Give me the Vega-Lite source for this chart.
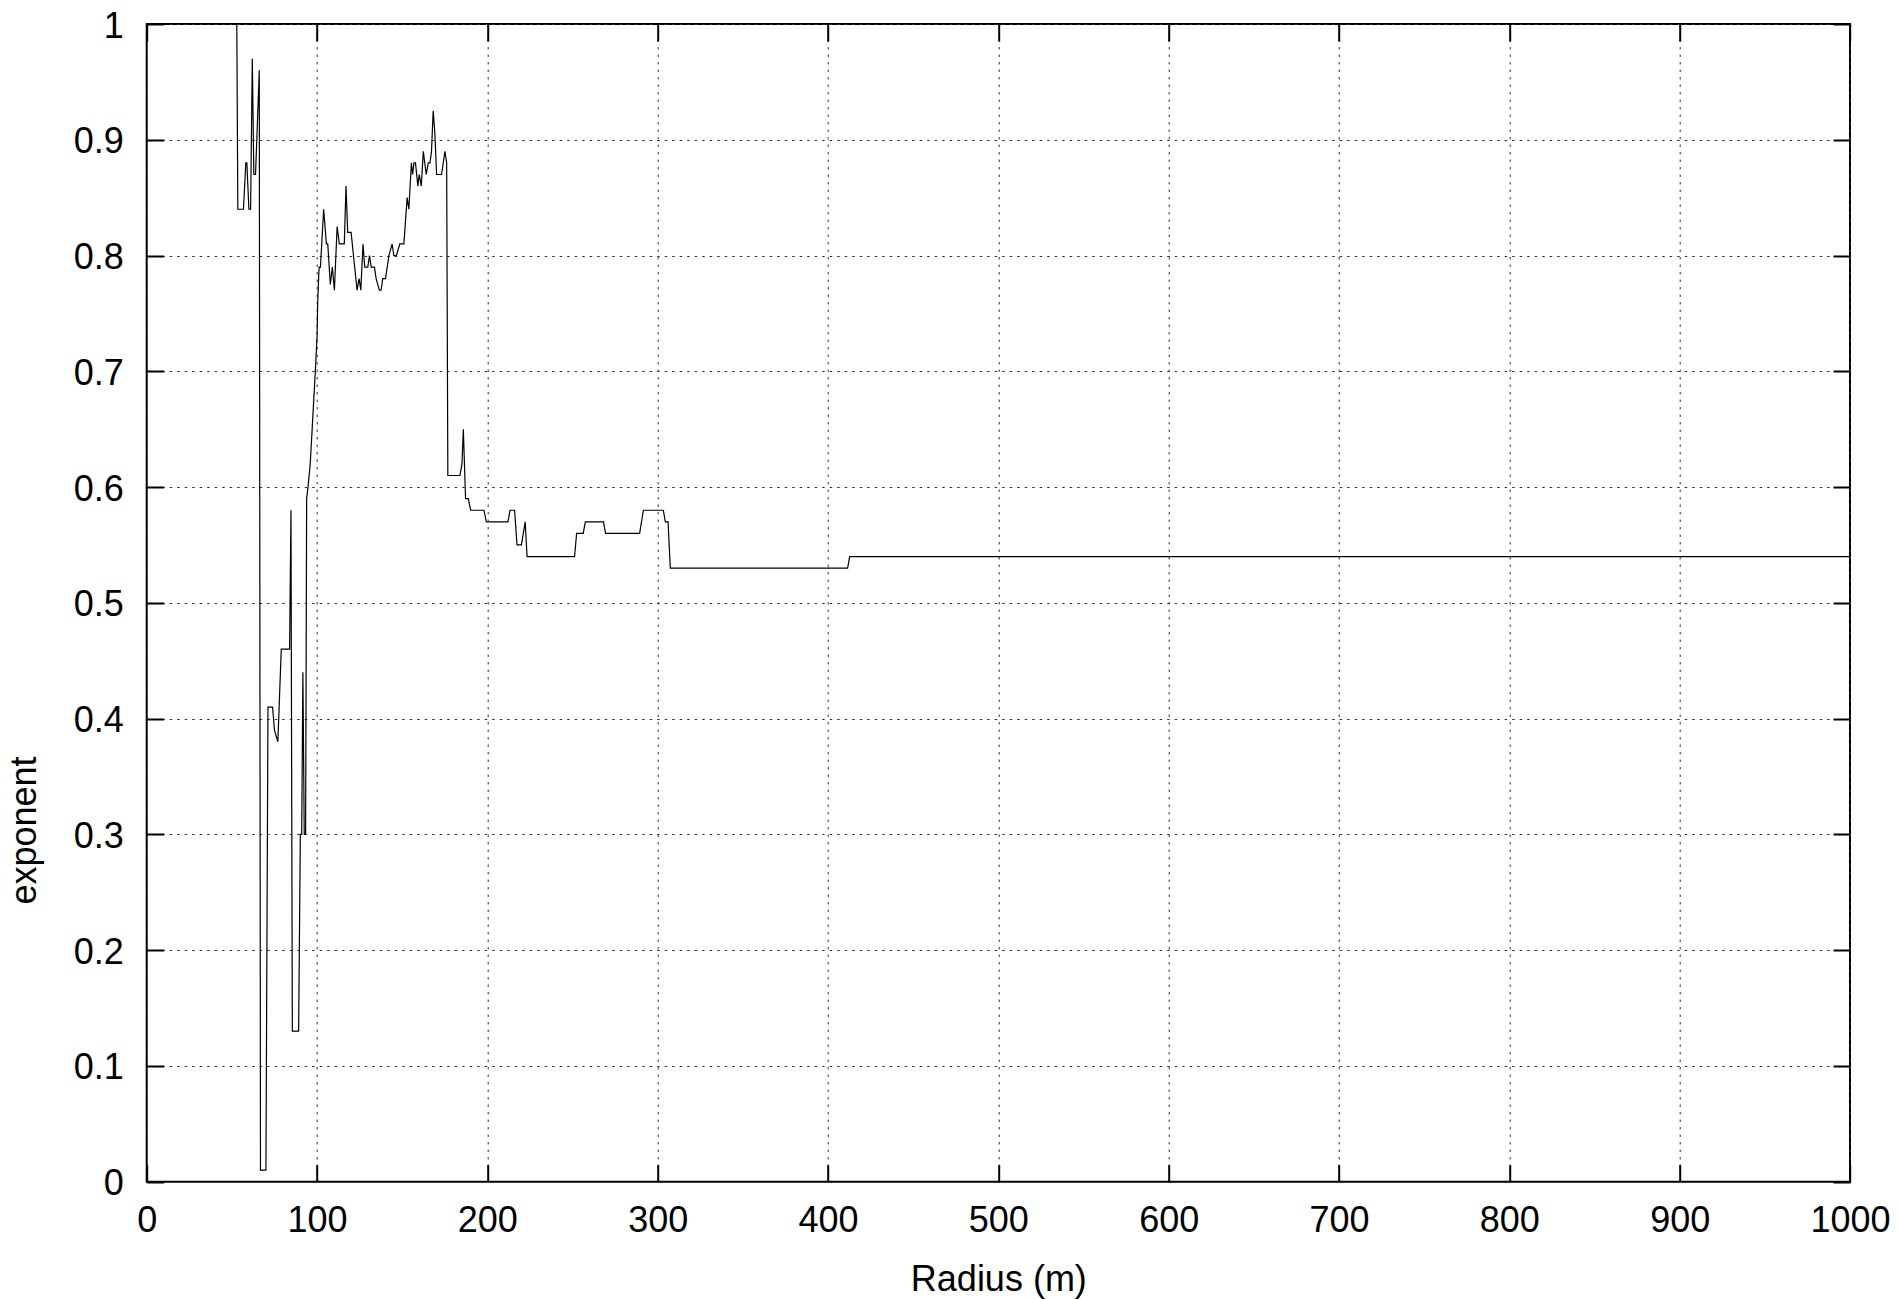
{
  "$schema": "https://vega.github.io/schema/vega-lite/v6.json",
  "width": 1703.3,
  "height": 1157.7,
  "autosize": {"type": "none"},
  "padding": {"left": 146.7, "top": 24, "right": 49, "bottom": 118.3},
  "background": "white",
  "config": {
    "view": {"stroke": "black", "strokeWidth": 2},
    "font": "Liberation Sans",
    "axis": {
      "labelFont": "Liberation Sans",
      "labelFontSize": 36,
      "labelColor": "black",
      "labelFlush": false,
      "titleFont": "Liberation Sans",
      "titleFontSize": 36,
      "titleFontWeight": "normal",
      "titleColor": "black",
      "domain": false,
      "tickColor": "black",
      "tickWidth": 2,
      "tickSize": -17,
      "gridColor": "#333333",
      "gridDash": [2.5, 5],
      "gridWidth": 1,
      "gridOpacity": 1
    }
  },
  "data": {
    "values": [
      {"r": 52.9, "e": 1.0},
      {"r": 53.5, "e": 0.84},
      {"r": 56.8, "e": 0.84},
      {"r": 58.2, "e": 0.88},
      {"r": 58.8, "e": 0.88},
      {"r": 60.0, "e": 0.84},
      {"r": 61.0, "e": 0.84},
      {"r": 62.0, "e": 0.97},
      {"r": 62.9, "e": 0.87},
      {"r": 63.9, "e": 0.87},
      {"r": 66.1, "e": 0.96},
      {"r": 66.8, "e": 0.01},
      {"r": 70.0, "e": 0.01},
      {"r": 71.2, "e": 0.41},
      {"r": 73.9, "e": 0.41},
      {"r": 75.0, "e": 0.39},
      {"r": 77.0, "e": 0.38},
      {"r": 79.0, "e": 0.46},
      {"r": 83.9, "e": 0.46},
      {"r": 84.7, "e": 0.58},
      {"r": 85.5, "e": 0.13},
      {"r": 89.2, "e": 0.13},
      {"r": 90.2, "e": 0.30},
      {"r": 91.0, "e": 0.30},
      {"r": 91.7, "e": 0.44},
      {"r": 92.5, "e": 0.30},
      {"r": 93.3, "e": 0.30},
      {"r": 93.9, "e": 0.59},
      {"r": 94.7, "e": 0.60},
      {"r": 96.0, "e": 0.62},
      {"r": 97.5, "e": 0.66},
      {"r": 99.0, "e": 0.70},
      {"r": 100.0, "e": 0.73},
      {"r": 100.4, "e": 0.76},
      {"r": 101.2, "e": 0.79},
      {"r": 102.0, "e": 0.79},
      {"r": 103.9, "e": 0.84},
      {"r": 105.5, "e": 0.81},
      {"r": 106.3, "e": 0.81},
      {"r": 107.8, "e": 0.775},
      {"r": 109.0, "e": 0.79},
      {"r": 110.2, "e": 0.77},
      {"r": 111.8, "e": 0.825},
      {"r": 113.1, "e": 0.81},
      {"r": 116.0, "e": 0.81},
      {"r": 117.0, "e": 0.86},
      {"r": 118.0, "e": 0.82},
      {"r": 120.0, "e": 0.82},
      {"r": 123.5, "e": 0.77},
      {"r": 124.7, "e": 0.78},
      {"r": 125.7, "e": 0.77},
      {"r": 127.0, "e": 0.81},
      {"r": 128.0, "e": 0.79},
      {"r": 129.8, "e": 0.79},
      {"r": 130.8, "e": 0.80},
      {"r": 131.8, "e": 0.79},
      {"r": 133.7, "e": 0.79},
      {"r": 134.7, "e": 0.78},
      {"r": 136.6, "e": 0.77},
      {"r": 137.6, "e": 0.77},
      {"r": 138.6, "e": 0.78},
      {"r": 140.2, "e": 0.78},
      {"r": 142.2, "e": 0.80},
      {"r": 144.1, "e": 0.81},
      {"r": 145.1, "e": 0.80},
      {"r": 146.6, "e": 0.80},
      {"r": 148.6, "e": 0.81},
      {"r": 151.0, "e": 0.81},
      {"r": 152.9, "e": 0.85},
      {"r": 153.9, "e": 0.84},
      {"r": 155.4, "e": 0.88},
      {"r": 156.1, "e": 0.87},
      {"r": 156.9, "e": 0.88},
      {"r": 157.8, "e": 0.88},
      {"r": 159.2, "e": 0.86},
      {"r": 160.0, "e": 0.87},
      {"r": 161.2, "e": 0.86},
      {"r": 162.4, "e": 0.89},
      {"r": 164.1, "e": 0.87},
      {"r": 165.3, "e": 0.88},
      {"r": 166.3, "e": 0.88},
      {"r": 167.2, "e": 0.89},
      {"r": 168.2, "e": 0.925},
      {"r": 169.2, "e": 0.905},
      {"r": 170.2, "e": 0.87},
      {"r": 173.1, "e": 0.87},
      {"r": 175.1, "e": 0.89},
      {"r": 176.1, "e": 0.88},
      {"r": 176.8, "e": 0.61},
      {"r": 183.9, "e": 0.61},
      {"r": 185.1, "e": 0.62},
      {"r": 185.9, "e": 0.65},
      {"r": 187.2, "e": 0.59},
      {"r": 188.8, "e": 0.59},
      {"r": 190.2, "e": 0.58},
      {"r": 198.0, "e": 0.58},
      {"r": 199.4, "e": 0.57},
      {"r": 212.1, "e": 0.57},
      {"r": 213.3, "e": 0.58},
      {"r": 216.0, "e": 0.58},
      {"r": 217.4, "e": 0.55},
      {"r": 220.0, "e": 0.55},
      {"r": 222.2, "e": 0.57},
      {"r": 223.3, "e": 0.54},
      {"r": 251.2, "e": 0.54},
      {"r": 252.4, "e": 0.56},
      {"r": 256.3, "e": 0.56},
      {"r": 257.5, "e": 0.57},
      {"r": 268.2, "e": 0.57},
      {"r": 269.4, "e": 0.56},
      {"r": 289.4, "e": 0.56},
      {"r": 291.6, "e": 0.58},
      {"r": 303.3, "e": 0.58},
      {"r": 304.5, "e": 0.57},
      {"r": 306.1, "e": 0.57},
      {"r": 307.4, "e": 0.53},
      {"r": 411.5, "e": 0.53},
      {"r": 412.7, "e": 0.54},
      {"r": 1000.0, "e": 0.54}
    ]
  },
  "layer": [
    {
      "mark": {"type": "line", "color": "black", "strokeWidth": 1.2, "clip": true},
      "encoding": {
        "x": {
          "field": "r",
          "type": "quantitative",
          "scale": {"domain": [0, 1000], "nice": false, "zero": false},
          "axis": {
            "orient": "bottom",
            "title": "Radius (m)",
            "values": [0, 100, 200, 300, 400, 500, 600, 700, 800, 900, 1000],
            "format": "~f",
            "labelPadding": 39,
            "titlePadding": 24,
            "grid": true
          }
        },
        "y": {
          "field": "e",
          "type": "quantitative",
          "scale": {"domain": [0, 1], "nice": false, "zero": false},
          "axis": {
            "orient": "left",
            "title": "exponent",
            "values": [0, 0.1, 0.2, 0.3, 0.4, 0.5, 0.6, 0.7, 0.8, 0.9, 1],
            "format": "~f",
            "labelPadding": 40.5,
            "labelOffset": 2,
            "titlePadding": 30,
            "titleY": 806,
            "grid": true
          }
        }
      }
    },
    {
      "mark": {"type": "line", "strokeOpacity": 0},
      "encoding": {
        "x": {
          "field": "r",
          "type": "quantitative",
          "scale": {"domain": [0, 1000], "nice": false, "zero": false},
          "axis": {
            "orient": "top",
            "title": null,
            "labels": false,
            "grid": false,
            "values": [0, 100, 200, 300, 400, 500, 600, 700, 800, 900, 1000]
          }
        },
        "y": {
          "field": "e",
          "type": "quantitative",
          "scale": {"domain": [0, 1], "nice": false, "zero": false},
          "axis": {
            "orient": "right",
            "title": null,
            "labels": false,
            "grid": false,
            "values": [0, 0.1, 0.2, 0.3, 0.4, 0.5, 0.6, 0.7, 0.8, 0.9, 1]
          }
        }
      }
    }
  ],
  "resolve": {"axis": {"x": "independent", "y": "independent"}}
}
